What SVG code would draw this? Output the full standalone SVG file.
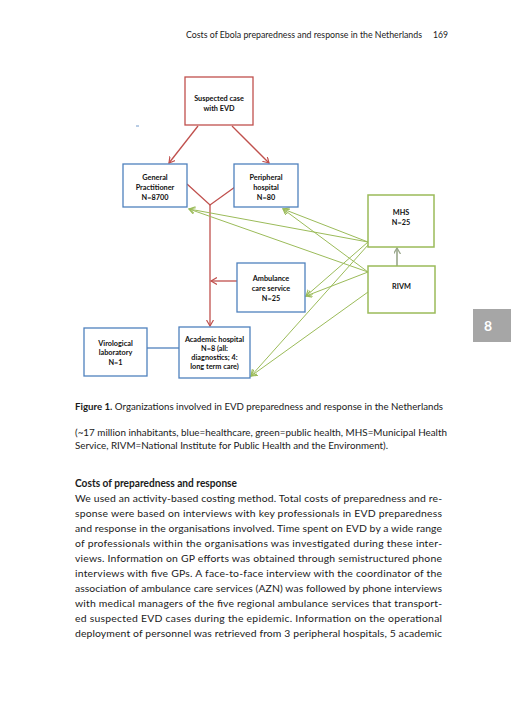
<svg xmlns="http://www.w3.org/2000/svg" width="511" height="720" viewBox="0 0 511 720">
<defs>
<style>
.txt{font-family:Lato,"Open Sans","Liberation Sans",sans-serif;fill:#1a1a1a}
.nt{font-family:Lato,"Open Sans","Liberation Sans",sans-serif;font-size:7.3px;font-weight:bold;fill:#111;text-anchor:middle}
.red{fill:#fff;stroke:#c0504d;stroke-width:1.3}
.blue{fill:#fff;stroke:#4f81bd;stroke-width:1.3}
.green{fill:#fff;stroke:#9bbb59;stroke-width:1.5}
.rl{stroke:#c0504d;stroke-width:1.3;fill:none}
.gl{stroke:#9bbb59;stroke-width:1;fill:none}
.body{font-size:10.4px}
</style>
<marker id="ar" markerWidth="8" markerHeight="8" refX="6" refY="3.5" orient="auto" markerUnits="userSpaceOnUse">
<path d="M0,0 L6,3.5 L0,7" fill="none" stroke="#c0504d" stroke-width="1.2"/>
</marker>
<marker id="ag" markerWidth="8" markerHeight="8" refX="6" refY="3.5" orient="auto" markerUnits="userSpaceOnUse">
<path d="M0,0 L6,3.5 L0,7" fill="none" stroke="#9bbb59" stroke-width="1.1"/>
</marker>
<marker id="agr" markerWidth="8" markerHeight="8" refX="6" refY="3.5" orient="auto" markerUnits="userSpaceOnUse">
<path d="M0,0 L6,3.5 L0,7" fill="none" stroke="#98a68a" stroke-width="1.3"/>
</marker>
</defs>
<rect width="511" height="720" fill="#fff"/>

<text class="txt" x="186" y="38" font-size="8.6" textLength="236" lengthAdjust="spacingAndGlyphs">Costs of Ebola preparedness and response in the Netherlands</text>
<text class="txt" x="433" y="38" font-size="8.6">169</text>

<rect x="473" y="309" width="38" height="33" fill="#a6a6a6"/>
<text x="488" y="330.5" font-family="Lato,'Open Sans',sans-serif" font-size="14" font-weight="bold" fill="#fff" text-anchor="middle">8</text>

<line x1="136" y1="126" x2="139" y2="126" stroke="#4f81bd" stroke-width="0.8"/>

<g id="connectors">
<line class="rl" x1="198" y1="126" x2="169" y2="163" marker-end="url(#ar)"/>
<line class="rl" x1="232" y1="126" x2="269" y2="163" marker-end="url(#ar)"/>
<polyline class="rl" points="187,184 210,205 235,187"/>
<line class="rl" x1="210" y1="205" x2="210" y2="326" marker-end="url(#ar)"/>
<line class="rl" x1="237" y1="281" x2="211" y2="281" marker-end="url(#ar)"/>
<line x1="147" y1="348" x2="179" y2="348" stroke="#4f81bd" stroke-width="1.3"/>
<line class="gl" x1="368" y1="242" x2="189" y2="209" marker-end="url(#ag)"/>
<line class="gl" x1="368" y1="272" x2="189" y2="209" marker-end="url(#ag)"/>
<line class="gl" x1="368" y1="242" x2="283" y2="209" marker-end="url(#ag)"/>
<line class="gl" x1="368" y1="272" x2="283" y2="209" marker-end="url(#ag)"/>
<line class="gl" x1="368" y1="242" x2="306" y2="296" marker-end="url(#ag)"/>
<line class="gl" x1="368" y1="272" x2="306" y2="296" marker-end="url(#ag)"/>
<line class="gl" x1="368" y1="245" x2="251" y2="376" marker-end="url(#ag)"/>
<line class="gl" x1="368" y1="292" x2="251" y2="376" marker-end="url(#ag)"/>
<line x1="397" y1="266" x2="397" y2="248" stroke="#98a68a" stroke-width="1.6" marker-end="url(#agr)"/>
</g>

<g id="suspected">
<rect class="red" x="185" y="77" width="68" height="48"/>
<text class="nt" x="219" y="100.5">Suspected case</text>
<text class="nt" x="219" y="110.5">with EVD</text>
</g>
<g id="gp">
<rect class="blue" x="123" y="164" width="64" height="43"/>
<text class="nt" x="155" y="179.5">General</text>
<text class="nt" x="155" y="189.5">Practitioner</text>
<text class="nt" x="155" y="199.5">N=8700</text>
</g>
<g id="peripheral">
<rect class="blue" x="234" y="164" width="64" height="43"/>
<text class="nt" x="266" y="179.5">Peripheral</text>
<text class="nt" x="266" y="189.5">hospital</text>
<text class="nt" x="266" y="199.5">N=80</text>
</g>
<g id="mhs">
<rect class="green" x="368" y="195" width="66" height="52"/>
<text class="nt" x="401" y="214.5">MHS</text>
<text class="nt" x="401" y="224.5">N=25</text>
</g>
<g id="rivm">
<rect class="green" x="368" y="266" width="67" height="47"/>
<text class="nt" x="401.5" y="288.5">RIVM</text>
</g>
<g id="ambulance">
<rect class="blue" x="237" y="263" width="68" height="49"/>
<text class="nt" x="271" y="280.5">Ambulance</text>
<text class="nt" x="271" y="290.5">care service</text>
<text class="nt" x="271" y="300.5">N=25</text>
</g>
<g id="virological">
<rect class="blue" x="84" y="328" width="63" height="48"/>
<text class="nt" x="115.5" y="345.5">Virological</text>
<text class="nt" x="115.5" y="355">laboratory</text>
<text class="nt" x="115.5" y="364.5">N=1</text>
</g>
<g id="academic">
<rect class="blue" x="179" y="327" width="71" height="51"/>
<text class="nt" x="214.5" y="342" font-size="6.8">Academic hospital</text>
<text class="nt" x="214.5" y="350.5" font-size="6.8">N=8 (all:</text>
<text class="nt" x="214.5" y="359.5" font-size="6.8">diagnostics; 4:</text>
<text class="nt" x="214.5" y="368.5" font-size="6.8">long term care)</text>
</g>

<text class="txt" x="75" y="410" font-size="9.6" textLength="368" lengthAdjust="spacingAndGlyphs"><tspan font-weight="bold">Figure 1.</tspan> Organizations involved in EVD preparedness and response in the Netherlands</text>
<text class="txt" x="75" y="435.5" font-size="9.6" textLength="372" lengthAdjust="spacingAndGlyphs">(~17 million inhabitants, blue=healthcare, green=public health, MHS=Municipal Health</text>
<text class="txt" x="75" y="448.5" font-size="9.6" textLength="313" lengthAdjust="spacingAndGlyphs">Service, RIVM=National Institute for Public Health and the Environment).</text>

<text class="txt" x="75" y="487" font-size="11.2" font-weight="bold" textLength="162" lengthAdjust="spacingAndGlyphs">Costs of preparedness and response</text>
<g class="txt body">
<text x="75" y="502" textLength="367" lengthAdjust="spacing">We used an activity-based costing method. Total costs of preparedness and re-</text>
<text x="75" y="517" textLength="367" lengthAdjust="spacing">sponse were based on interviews with key professionals in EVD preparedness</text>
<text x="75" y="532" textLength="367" lengthAdjust="spacing">and response in the organisations involved. Time spent on EVD by a wide range</text>
<text x="75" y="547" textLength="367" lengthAdjust="spacing">of professionals within the organisations was investigated during these inter-</text>
<text x="75" y="562" textLength="367" lengthAdjust="spacing">views. Information on GP efforts was obtained through semistructured phone</text>
<text x="75" y="577" textLength="367" lengthAdjust="spacing">interviews with five GPs. A face-to-face interview with the coordinator of the</text>
<text x="75" y="592" textLength="367" lengthAdjust="spacing">association of ambulance care services (AZN) was followed by phone interviews</text>
<text x="75" y="607" textLength="367" lengthAdjust="spacing">with medical managers of the five regional ambulance services that transport-</text>
<text x="75" y="622" textLength="367" lengthAdjust="spacing">ed suspected EVD cases during the epidemic. Information on the operational</text>
<text x="75" y="637" textLength="367" lengthAdjust="spacing">deployment of personnel was retrieved from 3 peripheral hospitals, 5 academic</text>
</g>
</svg>
